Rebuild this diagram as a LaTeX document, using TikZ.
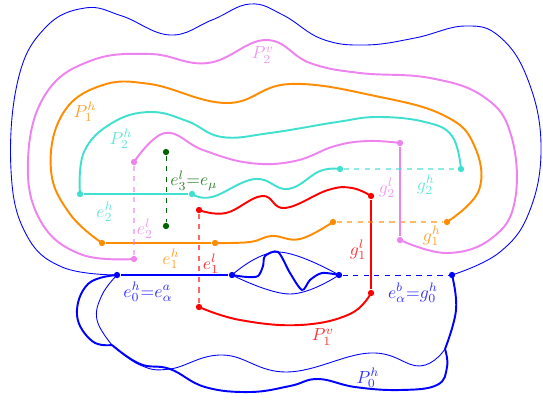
\documentclass[tikz,border=0pt]{standalone}
\usepackage{tikz}
\definecolor{tq}{RGB}{64,224,208}
\definecolor{vio}{RGB}{238,130,238}
\definecolor{org}{RGB}{255,140,0}
\definecolor{dgreen}{RGB}{0,100,0}

\begin{document}
\begin{tikzpicture}[
    x=0.02cm, y=-0.02cm,
    dot/.style={circle, fill, inner sep=0pt, minimum size=3.6pt},
    curve/.style={line width=1.1pt, line join=round},
    thinb/.style={blue, line width=0.5pt},
    dsh/.style={dashed, line width=1.1pt, opacity=0.6},
    lbl/.style={inner sep=1pt, text opacity=0.8},
]
\useasboundingbox (0,0) rectangle (543,399);

% dots
\node[dot, blue] (b1) at (117,275) {};
\node[dot, blue] (b2) at (232,275) {};
\node[dot, blue] (b3) at (339,275) {};
\node[dot, blue] (b4) at (452,275) {};
\node[dot, red] (r1) at (199,210) {};
\node[dot, red] (r2) at (199,307) {};
\node[dot, red] (r3) at (371,196) {};
\node[dot, red] (r4) at (371,293) {};
\node[dot, org] (o1) at (102,243) {};
\node[dot, org] (o2) at (215,243) {};
\node[dot, org] (o3) at (333,222) {};
\node[dot, org] (o4) at (447,222) {};
\node[dot, vio] (v1) at (134,162) {};
\node[dot, vio] (v2) at (134,259) {};
\node[dot, vio] (v3) at (400,143) {};
\node[dot, vio] (v4) at (400,240) {};
\node[dot, tq] (t1) at (80,194) {};
\node[dot, tq] (t2) at (192,194) {};
\node[dot, tq] (t3) at (340,169) {};
\node[dot, tq] (t4) at (461,169) {};
\node[dot, dgreen] (g1) at (166,152) {};
\node[dot, dgreen] (g2) at (166,226) {};

\coordinate (kl) at (112,345);
\coordinate (kr) at (445,349);
\coordinate (jn) at (170,369);

% outer thin boundary
\draw[thinb] plot[smooth, tension=0.7] coordinates {(b1.center) (62,267) (26,234) (11,170) (18,80) (45,28) (85,8) (122,16) (170,35) (212,20) (250,4) (283,15) (322,39) (365,45) (415,38) (465,26) (500,37) (528,80) (541,145) (530,210) (500,252) (b4.center)};
\draw[thinb] plot[smooth, tension=0.7] coordinates {(b1.center) (102,295) (97,320) (kl)};
\draw[thinb] plot[smooth, tension=0.7] coordinates {(kl) (140,365) (jn) (223,355) (287,372) (370,353) (420,366) (kr)};
\draw[thinb] plot[smooth, tension=0.7] coordinates {(b2.center) (278,252) (b3.center)};
\draw[thinb] plot[smooth, tension=0.7] coordinates {(b2.center) (290,294) (b3.center)};

% P_0^h
\draw[curve, blue] (b1) -- (b2);
\draw[curve, blue] plot[smooth, tension=0.5] coordinates {(b2.center) (247,277) (258,276) (263,266) (265,256) (278,252) (290,273) (302,290) (310,280) (322,273) (b3.center)};
\draw[dashed, blue] (b3) -- (b4);
\draw[curve, blue] plot[smooth, tension=0.7] coordinates {(b1.center) (88,284) (77,315) (92,341) (kl)};
\draw[curve, blue] plot[smooth, tension=0.7] coordinates {(kl) (140,364) (jn) (205,387) (250,392) (290,386) (318,379) (355,387) (400,390) (437,385) (447,367) (kr)};
\draw[curve, blue] plot[smooth, tension=0.7] coordinates {(kr) (456,310) (b4.center)};

% P_1^v
\draw[dsh, red] (r1) -- (r2);
\draw[curve, red] (r3) -- (r4);
\draw[curve, red] plot[smooth, tension=0.7] coordinates {(r1.center) (226,213) (262,196) (285,208) (328,190) (352,188) (r3.center)};
\draw[curve, red] plot[smooth, tension=0.7] coordinates {(r2.center) (240,320) (300,325) (350,314) (r4.center)};

% P_1^h
\draw[curve, org] (o1) -- (o2);
\draw[dsh, org] (o3) -- (o4);
\draw[curve, org] plot[smooth, tension=0.7] coordinates {(o2.center) (250,242) (272,236) (300,239) (o3.center)};
\draw[curve, org] plot[smooth, tension=0.7] coordinates {(o1.center) (70,214) (51,170) (62,115) (100,86) (150,84) (227,103) (290,84) (380,97) (445,116) (474,145) (479,190) (o4.center)};

% P_2^v
\draw[dsh, vio] (v1) -- (v2);
\draw[curve, vio] (v3) -- (v4);
\draw[curve, vio] plot[smooth, tension=0.7] coordinates {(v1.center) (165,133) (203,150) (250,163) (295,161) (335,146) (368,141) (v3.center)};
\draw[curve, vio] plot[smooth, tension=0.7] coordinates {(v2.center) (80,254) (40,220) (28,160) (45,95) (90,61) (150,54) (208,63) (266,40) (310,63) (360,73) (430,78) (484,97) (511,135) (515,200) (492,238) (447,253) (v4.center)};

% P_2^h
\draw[curve, tq] (t1) -- (t2);
\draw[dsh, tq] (t3) -- (t4);
\draw[curve, tq] plot[smooth, tension=0.7] coordinates {(t2.center) (212,197) (255,179) (288,189) (320,171) (t3.center)};
\draw[curve, tq] plot[smooth, tension=0.7] coordinates {(t1.center) (84,152) (112,123) (150,112) (187,121) (222,137) (270,133) (337,122) (378,117) (425,122) (452,136) (t4.center)};

% e_3^l
\draw[dashed, dgreen] (g1) -- (g2);

% labels
\node[lbl, text=vio] (lp2v) at (263,55) {$P_2^v$};
\node[lbl, text=org] (lp1h) at (85,112) {$P_1^h$};
\node[lbl, text=tq] (lp2h) at (121,139) {$P_2^h$};
\node[lbl, text=dgreen] (le3) at (194,181) {$e_3^l{=}e_\mu$};
\node[lbl, text=tq] (le2h) at (105,212) {$e_2^h$};
\node[lbl, text=vio] (le2l) at (145,229) {$e_2^l$};
\node[lbl, text=org] (le1h) at (171,259) {$e_1^h$};
\node[lbl, text=red] (le1l) at (211,264) {$e_1^l$};
\node[lbl, text=blue] (le0) at (148,292) {$e_0^h{=}e_\alpha^a$};
\node[lbl, text=vio] (lg2l) at (387,188) {$g_2^l$};
\node[lbl, text=tq] (lg2h) at (426,185) {$g_2^h$};
\node[lbl, text=red] (lg1l) at (358,250) {$g_1^l$};
\node[lbl, text=org] (lg1h) at (432,236) {$g_1^h$};
\node[lbl, text=blue] (lg0) at (413,293) {$e_\alpha^b{=}g_0^h$};
\node[lbl, text=red] (lp1v) at (323,337) {$P_1^v$};
\node[lbl, text=blue] (lp0h) at (368,378) {$P_0^h$};
\end{tikzpicture}
\end{document}
